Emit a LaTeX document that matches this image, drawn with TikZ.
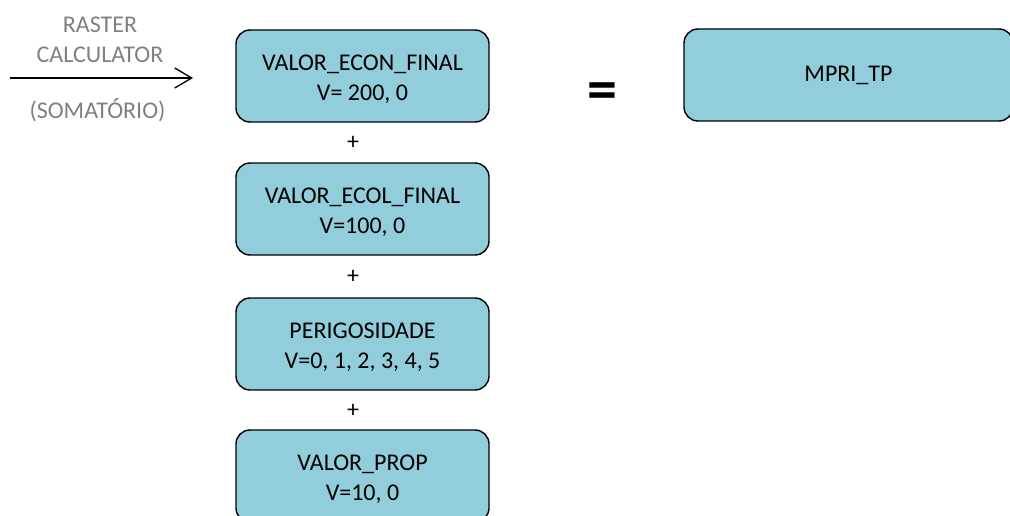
\documentclass[tikz,border=0pt]{standalone}
\usepackage{fontspec}
\setmainfont{Carlito}
\usetikzlibrary{arrows.meta}
\definecolor{boxfill}{RGB}{146,205,220}
\definecolor{labelgray}{RGB}{128,128,128}
\tikzset{
  layerbox/.style={draw=black, fill=boxfill, line width=1.4pt, rounded corners=14pt,
    minimum width=253pt, minimum height=92pt, inner sep=0pt},
  boxtext/.style={align=center, font=\fontsize{24}{30}\selectfont, inner sep=0pt},
  oplabel/.style={font=\fontsize{24}{26}\selectfont, inner sep=0pt},
  graylabel/.style={font=\fontsize{24}{26}\selectfont, text=labelgray, inner sep=0pt}
}
\begin{document}
\begin{tikzpicture}[x=1pt,y=-1pt]
  \useasboundingbox (0,0) rectangle (1010,516);
  \clip (0,0) rectangle (1010,516);

  % input layers, stacked and summed
  \node[layerbox] (econ) at (362.5,76) {};
  \node[boxtext] (econtext) at ([yshift=-3pt]econ.center) {VALOR\_ECON\_FINAL\\V= 200, 0};
  \node[layerbox] (ecol) at (362.5,209) {};
  \node[boxtext] (ecoltext) at ([yshift=-3pt]ecol.center) {VALOR\_ECOL\_FINAL\\V=100, 0};
  \node[layerbox] (perig) at (362.5,344) {};
  \node[boxtext] (perigtext) at ([yshift=-3pt]perig.center) {PERIGOSIDADE\\V=0, 1, 2, 3, 4, 5};
  \node[layerbox] (prop) at (362.5,476) {};
  \node[boxtext] (proptext) at ([yshift=-3pt]prop.center) {VALOR\_PROP\\V=10, 0};

  \node[oplabel] (p1) at (353,143) {+};
  \node[oplabel] (p2) at (353,277) {+};
  \node[oplabel] (p3) at (353,411) {+};

  % result layer
  \node[oplabel, font=\fontsize{60}{60}\selectfont\bfseries] (eq) at (602.5,96.5) {=};
  \node[layerbox, minimum width=329pt] (mpri) at (848.5,75) {};
  \node[oplabel] (mprilabel) at (mpri.center) {MPRI\_TP};

  % raster calculator operation
  \node[graylabel] (t1) at (100,25) {RASTER};
  \node[graylabel] (t2) at (100,55) {CALCULATOR};
  \node[graylabel] (t3) at (97.5,110) {(SOMATÓRIO)};
  \coordinate (a0) at (10,78);
  \coordinate (a1) at (193,78);
  \draw[line width=1.3pt, -{Straight Barb[length=17pt,width=20pt,line width=1.3pt]}] (a0) -- (a1);
\end{tikzpicture}
\end{document}
